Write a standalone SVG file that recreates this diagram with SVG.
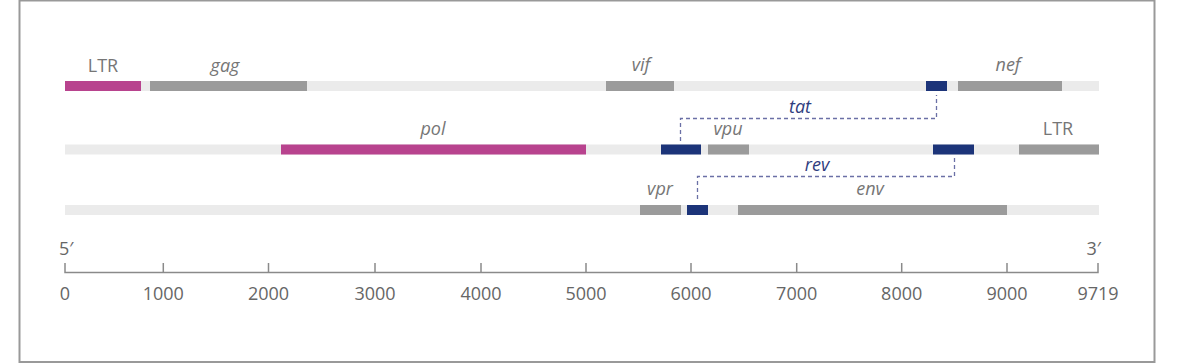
<svg xmlns="http://www.w3.org/2000/svg" width="1184" height="364" viewBox="0 0 1184 364">
<style>
.bg{fill:#ebebeb}
.g{fill:#9b9b9b}
.p{fill:#b8438e}
.b{fill:#1c3479}
.lbl{font-family:"Open Sans","Liberation Sans",sans-serif;font-size:18px;fill:#767676;text-anchor:middle}
.it{font-style:italic}
.bl{fill:#2f3c7e}
.ax{font-family:"Open Sans","Liberation Sans",sans-serif;font-size:18px;fill:#666;text-anchor:middle}
.dash{fill:none;stroke:#6b70a6;stroke-width:1.3;stroke-dasharray:4 3}
.axl{stroke:#8a8a8a;stroke-width:1.5;fill:none}
</style>
<rect x="0" y="0" width="1184" height="364" fill="#fff"/>
<rect x="19.5" y="0.5" width="1135" height="361.5" fill="#fff" stroke="#999" stroke-width="2"/>
<g id="row1">
<rect class="bg" x="65" y="81" width="1034" height="10"/>
<rect class="p" x="65" y="81" width="76" height="10"/>
<rect class="g" x="150" y="81" width="157" height="10"/>
<rect class="g" x="606" y="81" width="68" height="10"/>
<rect class="b" x="926" y="81" width="21" height="10"/>
<rect class="g" x="958" y="81" width="104" height="10"/>
</g>
<g id="row2">
<rect class="bg" x="65" y="144.5" width="1034" height="10"/>
<rect class="p" x="281" y="144.5" width="305" height="10"/>
<rect class="b" x="661" y="144.5" width="40" height="10"/>
<rect class="g" x="708" y="144.5" width="41" height="10"/>
<rect class="b" x="933" y="144.5" width="41" height="10"/>
<rect class="g" x="1019" y="144.5" width="80" height="10"/>
</g>
<g id="row3">
<rect class="bg" x="65" y="205" width="1034" height="10"/>
<rect class="g" x="640" y="205" width="41" height="10"/>
<rect class="b" x="687" y="205" width="21" height="10"/>
<rect class="g" x="738" y="205" width="269" height="10"/>
</g>
<g id="labels">
<text class="lbl" x="103" y="72">LTR</text>
<text class="lbl it" x="225" y="72">gag</text>
<text class="lbl it" x="641" y="71">vif</text>
<text class="lbl it" x="1008" y="71">nef</text>
<text class="lbl it bl" x="800" y="113">tat</text>
<text class="lbl it" x="433" y="135">pol</text>
<text class="lbl it" x="728" y="135">vpu</text>
<text class="lbl" x="1058" y="135">LTR</text>
<text class="lbl it bl" x="817" y="171">rev</text>
<text class="lbl it" x="660" y="195">vpr</text>
<text class="lbl it" x="870" y="195">env</text>
</g>
<g id="connectors">
<path class="dash" d="M680.5,141 V118.5 H936.5 V95"/>
<path class="dash" d="M954.5,158 V176.5 H697.5 V202"/>
</g>
<g id="axis">
<path class="axl" d="M65,263 V272.5 H1098 V263 M163.3,263 V272.5 M268.5,263 V272.5 M375,263 V272.5 M481,263 V272.5 M586,263 V272.5 M691,263 V272.5 M796.7,263 V272.5 M901.7,263 V272.5 M1007,263 V272.5"/>
<text class="ax" x="59" y="255" style="text-anchor:start">5′</text>
<text class="ax" x="1101" y="255" style="text-anchor:end">3′</text>
<text class="ax" x="65" y="300">0</text>
<text class="ax" x="163.3" y="300">1000</text>
<text class="ax" x="268.5" y="300">2000</text>
<text class="ax" x="375" y="300">3000</text>
<text class="ax" x="481" y="300">4000</text>
<text class="ax" x="586" y="300">5000</text>
<text class="ax" x="691" y="300">6000</text>
<text class="ax" x="796.7" y="300">7000</text>
<text class="ax" x="901.7" y="300">8000</text>
<text class="ax" x="1007" y="300">9000</text>
<text class="ax" x="1098" y="300">9719</text>
</g>
</svg>
